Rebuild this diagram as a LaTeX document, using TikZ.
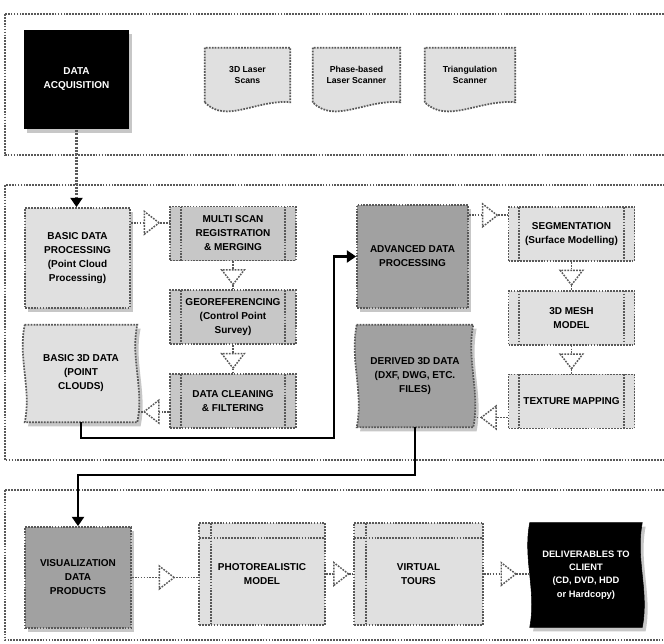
\documentclass[tikz,border=0pt]{standalone}
\usepackage{fontspec}
\setmainfont{Liberation Sans}
\usetikzlibrary{positioning}
\usetikzlibrary{calc}
\usetikzlibrary{arrows.meta}
\usetikzlibrary{shapes.geometric}
\usetikzlibrary{shadows}
\usetikzlibrary{decorations.markings}
\pgfdeclarelayer{shapebg}
\pgfsetlayers{shapebg,main}

\newcommand{\boxfont}{\fontsize{7.5}{10.5}\selectfont\bfseries}
\newcommand{\docfont}{\fontsize{6.5}{8.5}\selectfont\bfseries}

% outline with a wavy bottom edge (source documents)
\newcommand{\docshape}[2]{%
  \draw[#2] (#1.south west) -- (#1.north west) -- (#1.north east) -- (#1.south east)
    .. controls ($(#1.south east)!.4!(#1.south west)+(0,-3)$) and ($(#1.south east)!.75!(#1.south west)+(0,22)$) .. (#1.south west) -- cycle;}
% outline with wavy sides (stored data)
\newcommand{\sidetape}[2]{%
  \draw[#2] (#1.north west) -- (#1.north east)
    .. controls ($(#1.north east)!.35!(#1.south east)+(-7,0)$) and ($(#1.north east)!.65!(#1.south east)+(7,0)$) .. (#1.south east)
    -- (#1.south west)
    .. controls ($(#1.south west)!.35!(#1.north west)+(7,0)$) and ($(#1.south west)!.65!(#1.north west)+(-7,0)$) .. cycle;}

\tikzset{
  dotline/.style={draw=black!65, line width=1.3pt, dash pattern=on 1.3pt off 0.9pt},
  panel/.style={dotline},
  shadowed/.style={drop shadow={shadow xshift=2.5pt, shadow yshift=-3pt, fill=black!22, opacity=1}},
  dither/.style={fill=black!12},
  box/.style={dotline, inner sep=1pt, align=center, font=\boxfont},
  bars/.style={path picture={
    \draw[dotline] ([xshift=8pt]path picture bounding box.north west) -- ([xshift=8pt]path picture bounding box.south west)
      ([xshift=-8pt]path picture bounding box.north east) -- ([xshift=-8pt]path picture bounding box.south east);}},
  storage/.style={path picture={
    \draw[dotline] ([xshift=9pt]path picture bounding box.north west) -- ([xshift=9pt]path picture bounding box.south west)
      ([yshift=-11.5pt]path picture bounding box.north west) -- ([yshift=-11.5pt]path picture bounding box.north east);}},
  smallbox/.style={box, bars, minimum width=94.5pt, minimum height=40.5pt},
  valve/.style={isosceles triangle, isosceles triangle stretches, draw=black!65, fill=white, line width=1.1pt,
    dash pattern=on 1.3pt off 0.9pt, minimum width=17pt, minimum height=11pt, inner sep=0pt, transform shape},
  flow/.style={dotline, postaction={decorate, decoration={markings, mark=at position .5 with {\node[valve]{};}}}},
  feedin/.style={draw=black!65, line width=2pt, dash pattern=on 1.5pt off 1pt, -{Triangle[length=7pt, width=9pt, color=black]}},
  feed/.style={draw=black, line width=2.2pt, -{Triangle[length=7pt, width=9pt]}},
}

\begin{document}
\begin{tikzpicture}[x=0.75pt, y=-0.75pt]
	\useasboundingbox (0,0) rectangle (664,643);
	
	% Panels
	\draw[panel] (5,14) rectangle (670,155);
	\draw[panel] (5,185) rectangle (670,460);
	\draw[panel] (5,490) rectangle (670,640);
	
	% Acquisition
	\node[box, shadowed, fill=black, draw=none, text=white, minimum width=78.75pt, minimum height=74.25pt] (acq) at (76.5,79.5) {DATA\\ACQUISITION};
	\node[align=center, font=\docfont, minimum width=63.75pt, minimum height=40.5pt] (d1) at (247.5,75) {3D Laser\\Scans};
	\node[align=center, font=\docfont, minimum width=65.25pt, minimum height=40.5pt] (d2) at (356.5,75) {Phase-based\\Laser Scanner};
	\node[align=center, font=\docfont, minimum width=67.5pt, minimum height=40.5pt] (d3) at (470,75) {Triangulation\\Scanner};
	
	% Basic processing
	\node[box, shadowed, dither, minimum width=78.75pt, minimum height=75pt] (bdp) at (77.5,258) {BASIC DATA\\PROCESSING\\(Point Cloud\\Processing)};
	\node[smallbox, fill=black!22] (sb1) at (233,233.5) {MULTI SCAN\\REGISTRATION\\\& MERGING};
	\node[smallbox, fill=black!22, below=21pt of sb1] (sb2) {GEOREFERENCING\\(Control Point\\Survey)};
	\node[smallbox, fill=black!22, below=21pt of sb2] (sb3) {DATA CLEANING\\\& FILTERING};
	\node[align=center, font=\boxfont, minimum width=84pt, minimum height=72.75pt] (b3d) at (81,373.5) {BASIC 3D DATA\\(POINT\\CLOUDS)};
	
	% Advanced processing
	\node[box, shadowed, fill=black!37, minimum width=83.25pt, minimum height=77.25pt] (adv) at (412.5,256.5) {ADVANCED DATA\\PROCESSING};
	\node[smallbox, dither] (r1) at (571.5,234) {SEGMENTATION\\(Surface Modelling)};
	\node[smallbox, dither, below=21pt of r1] (r2) {3D MESH\\MODEL};
	\node[smallbox, dither, below=21pt of r2] (r3) {TEXTURE MAPPING};
	\node[align=center, font=\boxfont, minimum width=87pt, minimum height=76.5pt] (der) at (415,376) {DERIVED 3D DATA\\(DXF, DWG, ETC.\\FILES)};
	
	% Products
	\node[box, shadowed, fill=black!37, minimum width=79.5pt, minimum height=75.75pt] (post) at (78,577.5) {VISUALIZATION\\DATA\\PRODUCTS};
	\node[box, dither, storage, minimum width=94.5pt, minimum height=76.5pt] (pb2) at (262,574) {PHOTOREALISTIC\\MODEL};
	\node[box, dither, storage, minimum width=96.75pt, minimum height=76.5pt] (pb3) at (418.5,574) {VIRTUAL\\TOURS};
	\node[align=center, font=\fontsize{7}{10}\selectfont\bfseries, text=white, minimum width=84pt, minimum height=78pt] (out) at (586,575) {DELIVERABLES TO\\CLIENT\\(CD, DVD, HDD\\or Hardcopy)};
	
	% Outlines behind the texts
	\begin{pgfonlayer}{shapebg}
		\docshape{d1}{dotline, dither}
		\docshape{d2}{dotline, dither}
		\docshape{d3}{dotline, dither}
		\sidetape{b3d}{dotline, shadowed, dither}
		\sidetape{der}{dotline, shadowed, fill=black!37}
		\sidetape{out}{draw=black, fill=black, shadowed}
	\end{pgfonlayer}
	
	% Connections
	\coordinate (in1) at ([yshift=8pt]sb1.west);
	\coordinate (out1) at ([yshift=-8pt]sb3.west);
	\coordinate (in2) at ([yshift=14pt]r1.west);
	\coordinate (out2) at ([yshift=-12pt]r3.west);
	\coordinate (bend1) at (334,438);
	\coordinate (bend2) at (415,475);
	\draw[feedin] (acq.south) -- (acq.south |- bdp.north);
	\draw[flow] (bdp.east |- in1) -- (in1);
	\draw[flow] (sb1) -- (sb2);
	\draw[flow] (sb2) -- (sb3);
	\draw[flow] (out1) -- (out1 -| b3d.east);
	\draw[feed] (b3d.south) |- (bend1) |- (adv.west);
	\draw[flow] (adv.east |- in2) -- (in2);
	\draw[flow] (r1) -- (r2);
	\draw[flow] (r2) -- (r3);
	\draw[flow] (out2) -- (out2 -| der.east);
	\draw[feed] (der.south) -- (bend2) -| (post.north);
	\draw[flow] (post.east) -- (post.east -| pb2.west);
	\draw[flow] (pb2) -- (pb3);
	\draw[flow] (pb3) -- (pb3 -| out.west);
	
\end{tikzpicture}
\end{document}
